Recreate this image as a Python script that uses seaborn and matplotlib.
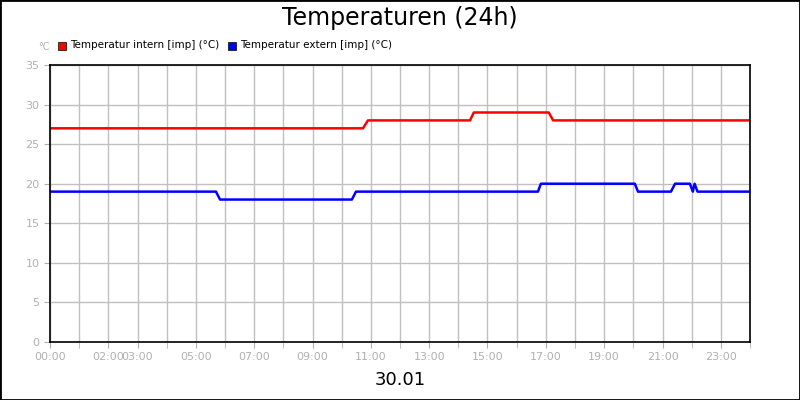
import numpy as np
import pandas as pd
import matplotlib.pyplot as plt
import seaborn as sns

# hours of day, step-like traces
intern_h = [0, 10.73, 10.9, 14.4, 14.53, 17.1, 17.25, 24]
intern_t = [27, 27, 28, 28, 29, 29, 28, 28]
extern_h = [0, 5.69, 5.83, 10.35, 10.49, 16.73, 16.83, 20.05, 20.16, 21.29, 21.43,
            21.94, 22.04, 22.1, 22.2, 24]
extern_t = [19, 19, 18, 18, 19, 19, 20, 20, 19, 19, 20, 20, 19, 20, 19, 19]
tick_hours = [0, 2, 3, 5, 7, 9, 11, 13, 15, 17, 19, 21, 23]
tick_labels = ["%02d:00" % h for h in tick_hours]

sns.set_style("white")
plt.rcParams['font.family'] = ['DejaVu Sans']

df = pd.concat([
    pd.DataFrame({"h": intern_h, "t": intern_t, "s": "Temperatur intern [imp] (°C)"}),
    pd.DataFrame({"h": extern_h, "t": extern_t, "s": "Temperatur extern [imp] (°C)"}),
])

fig = plt.figure(figsize=(8, 4), dpi=100)
ax = fig.add_axes([50 / 800, 58 / 400, 700 / 800, 277 / 400])
palette = {"Temperatur intern [imp] (°C)": "#ff0000", "Temperatur extern [imp] (°C)": "#0000ff"}
sns.lineplot(data=df, x="h", y="t", hue="s", palette=palette, linewidth=1.8, ax=ax, legend=False)

ax.set_xlim(0, 24)
ax.set_ylim(0, 35)
ax.set_xticks(range(25), minor=True)
ax.set_xticks(tick_hours)
ax.set_xticklabels(tick_labels)
ax.set_yticks(range(0, 36, 5))
ax.grid(True, which="both", axis="x", color="#c0c0c0", linewidth=1)
ax.grid(True, which="major", axis="y", color="#c0c0c0", linewidth=1)
ax.tick_params(axis="both", which="both", colors="#b0b0b0", labelsize=8, length=4, left=True, bottom=True)
ax.set_xlabel("")
ax.set_ylabel("")
for sp in ax.spines.values():
    sp.set_color("black")
    sp.set_linewidth(1.2)

fig.text(0.5, 0.955, "Temperaturen (24h)", ha="center", va="center", fontsize=17, color="black")
fig.text(0.5, 0.05, "30.01", ha="center", va="center", fontsize=13, color="black")
fig.text(38 / 800, 1 - 47 / 400, "°C", ha="left", va="center", fontsize=7, color="#b0b0b0")
x = 58
for name, c in palette.items():
    fig.patches.append(plt.Rectangle((x / 800, 1 - 50 / 400), 8 / 800, 8 / 400,
                                     transform=fig.transFigure, facecolor=c, edgecolor="black", lw=0.5))
    fig.text((x + 12) / 800, 1 - 45 / 400, name, ha="left", va="center", fontsize=7.5, color="black")
    x += 170

fig.patches.append(plt.Rectangle((0, 0), 1, 1, transform=fig.transFigure, fill=False,
                                 edgecolor="black", lw=2))
fig.savefig("out.png", dpi=100)
